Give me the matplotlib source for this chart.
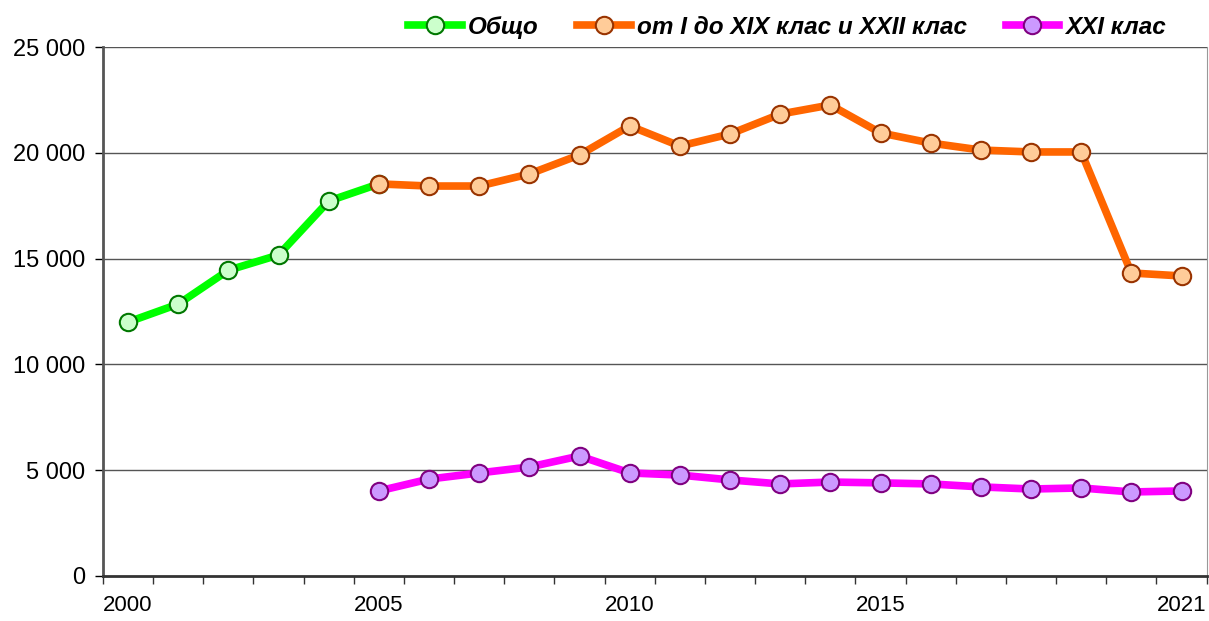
import matplotlib.pyplot as plt
from matplotlib.ticker import FuncFormatter

# Data
years = list(range(2000, 2022))
total_years = [2000, 2001, 2002, 2003, 2004, 2005]
total = [12000, 12850, 14450, 15170, 17720, 18530]
main_years = list(range(2005, 2022))
main = [18530, 18430, 18430, 19000, 19900, 21270, 20320, 20890, 21830, 22260,
        20940, 20460, 20130, 20040, 20040, 14320, 14180]
xxi_years = list(range(2005, 2022))
xxi = [4020, 4580, 4870, 5150, 5670, 4870, 4770, 4540, 4350, 4440,
       4400, 4350, 4210, 4110, 4160, 3970, 4020]
tick_labels = {2000: '2000', 2005: '2005', 2010: '2010', 2015: '2015', 2021: '2021'}

plt.rcParams['font.family'] = ['Liberation Sans', 'DejaVu Sans']

fig = plt.figure(figsize=(12.09, 6.21), dpi=100)
ax = fig.add_axes([0.0852, 0.0725, 0.9128, 0.8518])

def pos(yrs):
    return [y - 2000 for y in yrs]

lw = 5.5
ms = 12.5
ax.plot(pos(total_years), total, color='#00FF00', lw=lw, marker='o', ms=ms,
        mfc='#CCFFCC', mec='#007700', mew=1.5, label='Общо', zorder=3)
ax.plot(pos(main_years), main, color='#FF6600', lw=lw, marker='o', ms=ms,
        mfc='#FFCC99', mec='#993300', mew=1.5, label='от I до XIX клас и XXII клас', zorder=4)
ax.plot(pos(xxi_years), xxi, color='#FF00FF', lw=lw, marker='o', ms=ms,
        mfc='#CC99FF', mec='#800080', mew=1.5, label='XXI клас', zorder=5)

ax.set_xlim(-0.5, len(years) - 0.5)
ax.set_ylim(0, 25000)

# gridlines
for v in [5000, 10000, 15000, 20000, 25000]:
    ax.axhline(v, color='#555555', lw=1.0, zorder=1)

ax.set_yticks([0, 5000, 10000, 15000, 20000, 25000])
ax.yaxis.set_major_formatter(FuncFormatter(lambda v, p: f'{int(v):,}'.replace(',', ' ')))
ax.tick_params(axis='y', labelsize=17, length=6, width=1, direction='out', pad=7)

# category boundaries as ticks, labels centered in categories
ax.set_xticks([i - 0.5 for i in range(len(years) + 1)])
ax.set_xticklabels([])
ax.set_xticks(pos(list(tick_labels.keys())), minor=True)
ax.set_xticklabels(list(tick_labels.values()), minor=True, fontsize=16)
ax.tick_params(axis='x', which='major', length=6, width=1, color='#333333')
ax.tick_params(axis='x', which='minor', length=0, pad=14)

ax.spines['left'].set_color('#555555')
ax.spines['left'].set_linewidth(2)
ax.spines['bottom'].set_color('#333333')
ax.spines['bottom'].set_linewidth(2)
ax.spines['right'].set_color('#999999')
ax.spines['top'].set_visible(False)

leg = fig.legend(loc='upper center', bbox_to_anchor=(0.651, 1.01), ncol=3, frameon=False,
                 prop={'size': 17.5, 'weight': 'bold', 'style': 'italic'},
                 handlelength=2.2, handletextpad=0.25, columnspacing=1.6)

fig.savefig('out.png', dpi=100)
